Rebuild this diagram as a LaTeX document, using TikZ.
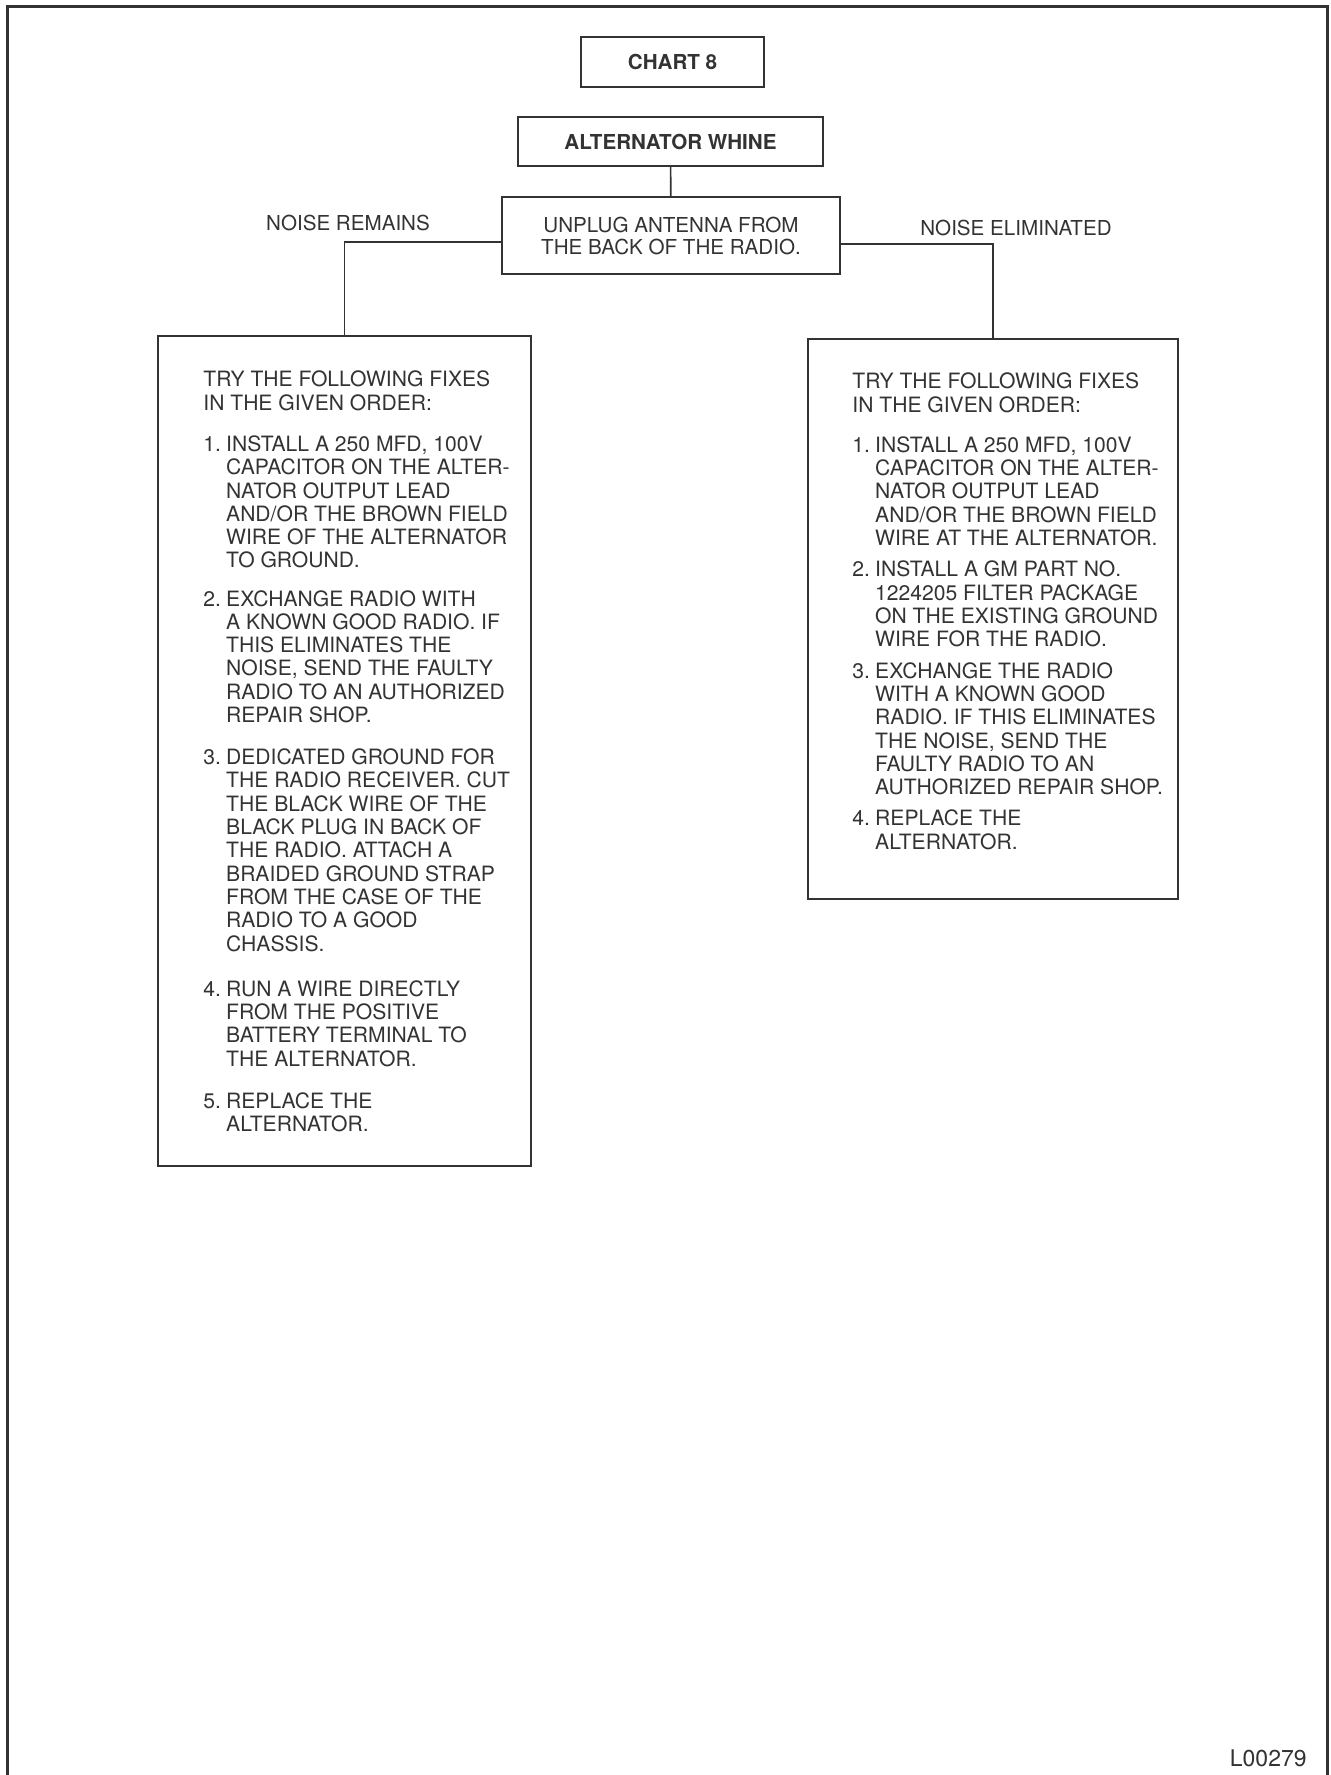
\documentclass[tikz,border=0pt]{standalone}
\usepackage{fontspec}
\setmainfont{TeX Gyre Heros}
\definecolor{inkgray}{HTML}{333333}
\newcommand{\fixNo}[1]{\makebox[1.08em][l]{#1}}

\begin{document}
\begin{tikzpicture}[x=0.5pt,y=-0.5pt,
  every node/.style={text=inkgray, inner sep=0pt},
  framebox/.style={draw=inkgray, line width=1pt, rectangle},
  wire/.style={draw=inkgray, line width=0.8pt},
  body/.style={font=\fontsize{10.3}{11.65}\selectfont},
  fixbody/.style={font=\fontsize{10.55}{11.65}\selectfont},
  headbody/.style={font=\bfseries\fontsize{10.3}{12}\selectfont}]
\useasboundingbox (0,0) rectangle (1331,1775);
% outer frame, open at the bottom
\draw[inkgray, line width=1.5pt] (7,1775) -- (7,7) -- (1327,7) -- (1327,1775);

% heading boxes
\node[framebox, headbody, minimum width=91.5pt, minimum height=25pt] (chart) at (672.5,62) {CHART 8};
\node[framebox, headbody, minimum width=152.5pt, minimum height=24.5pt] (whine) at (670.5,141.5) {ALTERNATOR WHINE};
\node[framebox, font=\fontsize{10.3}{11}\selectfont, align=center, minimum width=169pt, minimum height=38.5pt] (unplug) at (671,235.5) {UNPLUG ANTENNA FROM\\THE BACK OF THE RADIO.};

% branch labels
\node[body] (remains) at (348,223) {NOISE REMAINS};
\node[body] (eliminated) at (1016,228) {NOISE ELIMINATED};

% fix boxes
\node[framebox, anchor=north west, minimum width=186.5pt, minimum height=415pt] (leftfix) at (157,335) {};
\node[framebox, anchor=north west, minimum width=185pt, minimum height=280pt] (rightfix) at (807,338) {};

\draw[wire] (whine) -- (unplug);
\draw[wire] ([yshift=-3.25pt]unplug.west) -| (leftfix.north);
\draw[wire] ([yshift=-4.25pt]unplug.east) -| (rightfix.north);

% noise remains
\node[fixbody, anchor=base west] (lefttext) at (203,387) {\begin{tabular}[t]{@{}l@{}}
TRY THE FOLLOWING FIXES\\
IN THE GIVEN ORDER:\\[8.9pt]
\fixNo{1.}INSTALL A 250 MFD, 100V\\
\fixNo{}CAPACITOR ON THE ALTER-\\
\fixNo{}NATOR OUTPUT LEAD\\
\fixNo{}AND/OR THE BROWN FIELD\\
\fixNo{}WIRE OF THE ALTERNATOR\\
\fixNo{}TO GROUND.\\[7.4pt]
\fixNo{2.}EXCHANGE RADIO WITH\\
\fixNo{}A KNOWN GOOD RADIO. IF\\
\fixNo{}THIS ELIMINATES THE\\
\fixNo{}NOISE, SEND THE FAULTY\\
\fixNo{}RADIO TO AN AUTHORIZED\\
\fixNo{}REPAIR SHOP.\\[9.4pt]
\fixNo{3.}DEDICATED GROUND FOR\\
\fixNo{}THE RADIO RECEIVER. CUT\\
\fixNo{}THE BLACK WIRE OF THE\\
\fixNo{}BLACK PLUG IN BACK OF\\
\fixNo{}THE RADIO. ATTACH A\\
\fixNo{}BRAIDED GROUND STRAP\\
\fixNo{}FROM THE CASE OF THE\\
\fixNo{}RADIO TO A GOOD\\
\fixNo{}CHASSIS.\\[10.9pt]
\fixNo{4.}RUN A WIRE DIRECTLY\\
\fixNo{}FROM THE POSITIVE\\
\fixNo{}BATTERY TERMINAL TO\\
\fixNo{}THE ALTERNATOR.\\[9.4pt]
\fixNo{5.}REPLACE THE\\
\fixNo{}ALTERNATOR.
\end{tabular}};

% noise eliminated
\node[fixbody, anchor=base west] (righttext) at (852,389) {\begin{tabular}[t]{@{}l@{}}
TRY THE FOLLOWING FIXES\\
IN THE GIVEN ORDER:\\[8.4pt]
\fixNo{1.}INSTALL A 250 MFD, 100V\\
\fixNo{}CAPACITOR ON THE ALTER-\\
\fixNo{}NATOR OUTPUT LEAD\\
\fixNo{}AND/OR THE BROWN FIELD\\
\fixNo{}WIRE AT THE ALTERNATOR.\\[4pt]
\fixNo{2.}INSTALL A GM PART NO.\\
\fixNo{}1224205 FILTER PACKAGE\\
\fixNo{}ON THE EXISTING GROUND\\
\fixNo{}WIRE FOR THE RADIO.\\[4pt]
\fixNo{3.}EXCHANGE THE RADIO\\
\fixNo{}WITH A KNOWN GOOD\\
\fixNo{}RADIO. IF THIS ELIMINATES\\
\fixNo{}THE NOISE, SEND THE\\
\fixNo{}FAULTY RADIO TO AN\\
\fixNo{}AUTHORIZED REPAIR SHOP.\\[4pt]
\fixNo{4.}REPLACE THE\\
\fixNo{}ALTERNATOR.
\end{tabular}};

\node[anchor=base east, font=\fontsize{11.5}{13}\selectfont] (figno) at (1307,1766) {L00279};
\end{tikzpicture}
\end{document}
